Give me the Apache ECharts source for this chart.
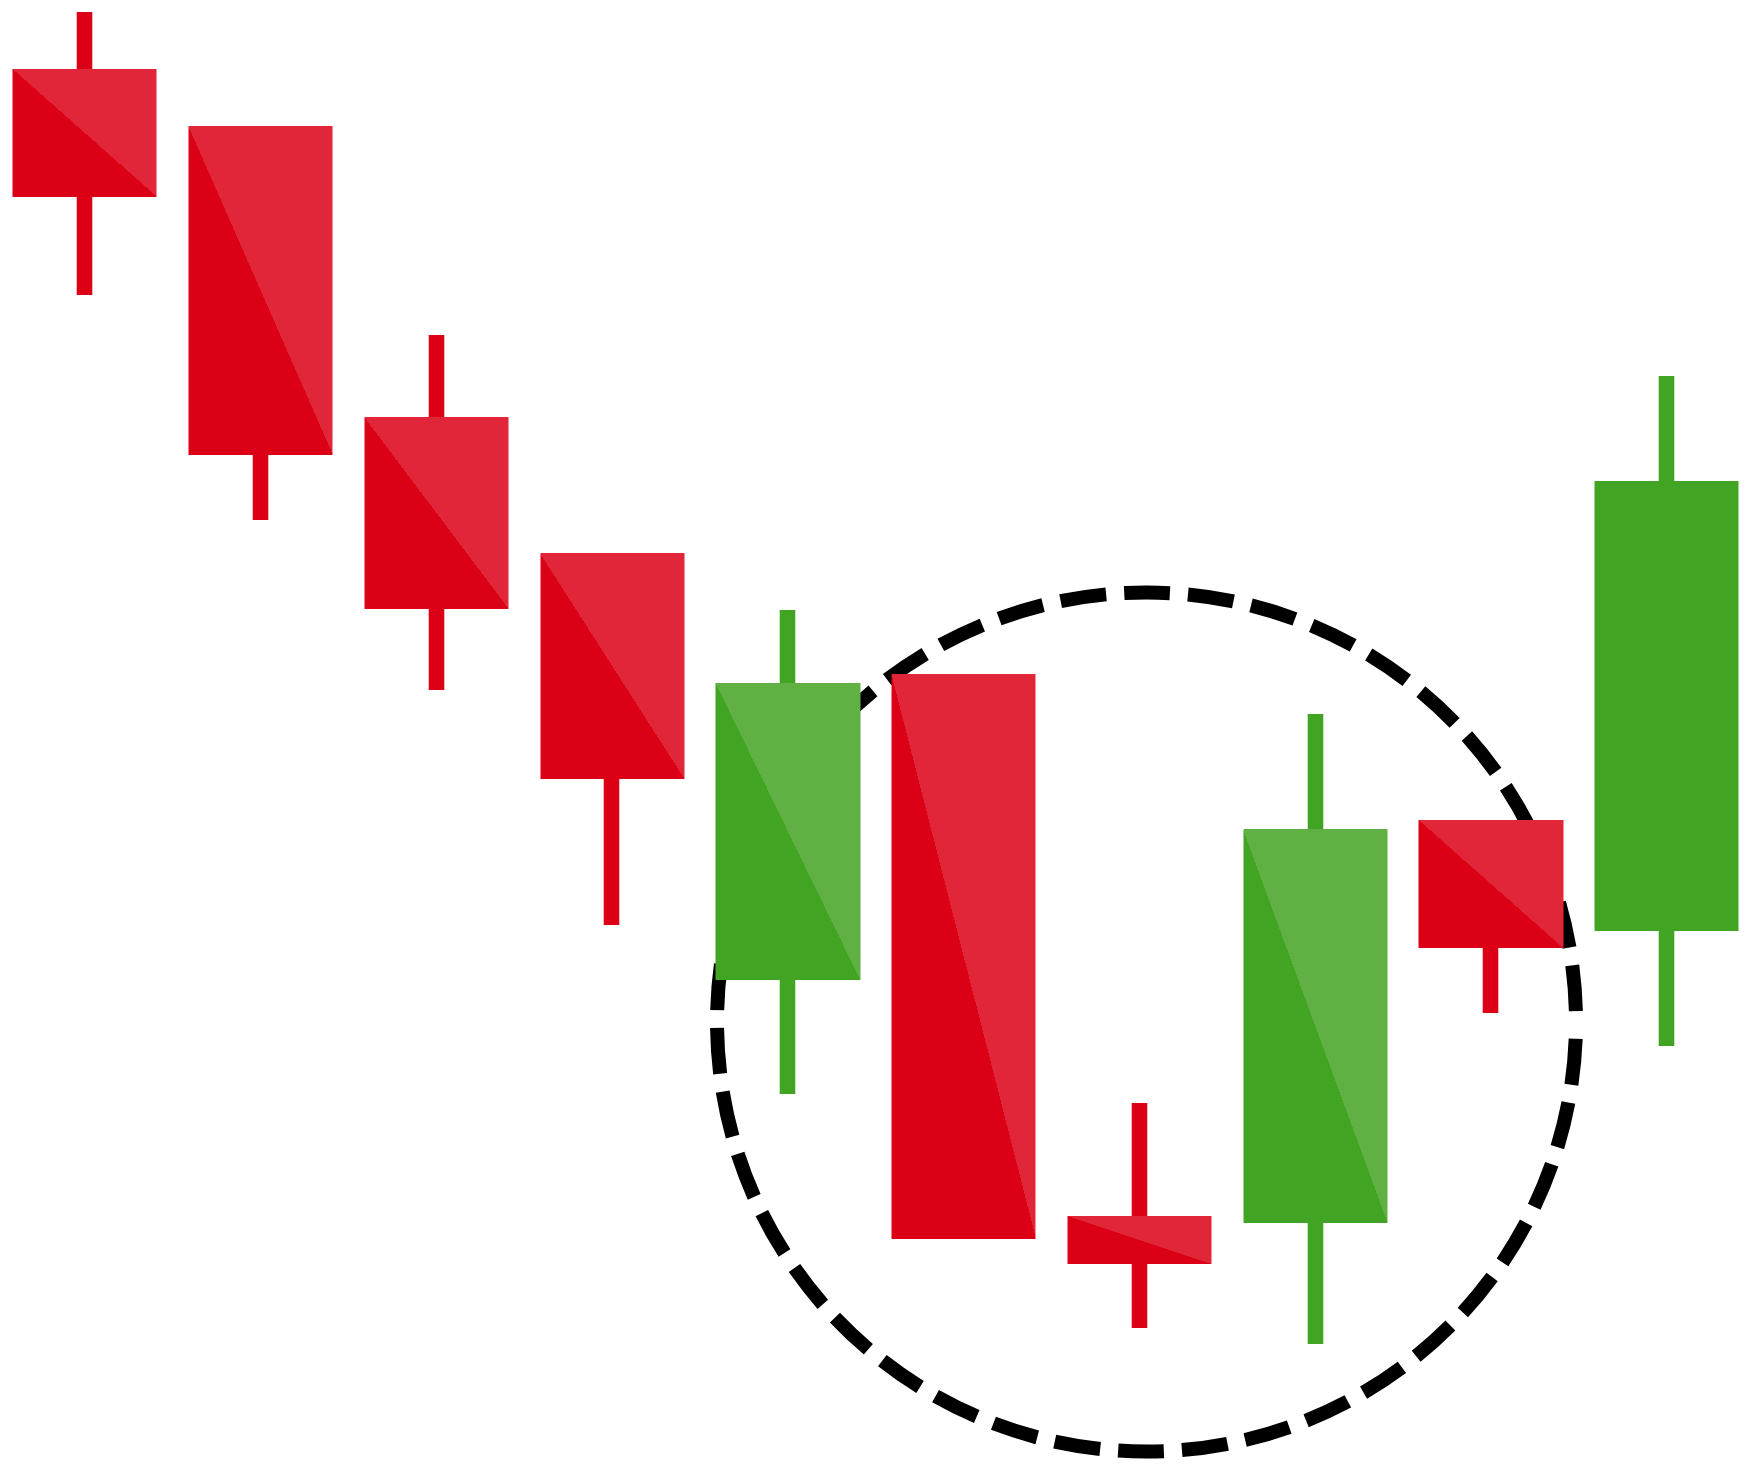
<!DOCTYPE html>
<html>
<head>
<meta charset="utf-8">
<script src="https://cdn.jsdelivr.net/npm/echarts@6/dist/echarts.min.js"></script>
<style>
html,body{margin:0;padding:0;background:#ffffff;}
#chart{width:1745px;height:1465px;}
</style>
</head>
<body>
<div id="chart"></div>
<script>
// ---- data (price units) ----
const candleIndex = [0, 1, 2, 3, 4, 5, 6, 7, 8, 9];
const openValues  = [139.6, 133.9, 104.8, 91.2, 48.5, 79.1, 24.9, 24.2, 64.5, 53.4];
const closeValues = [126.8, 101.0,  85.6, 68.6, 78.2, 22.6, 20.1, 63.6, 51.7, 98.4];
const lowValues   = [117.0,  94.5,  77.5, 54.0, 37.1, 22.6, 13.7, 12.1, 45.2, 41.9];
const highValues  = [145.3, 133.9, 113.0, 91.2, 85.5, 79.1, 36.2, 75.1, 64.5, 108.9];
const twoTone     = [true, true, true, true, true, true, true, true, true, false];
// dashed circle highlighting the reversal pattern
const circleCenter = { index: 6.04, price: 44.3 };
const circleRadiusPrice = 42.95;

// ---- styles ----
const RED_DARK = '#DC0017', RED_LIGHT = '#E2263A';
const GREEN_DARK = '#41A422', GREEN_LIGHT = '#60B043';
const BODY_WIDTH = 144.7;
const WICK_WIDTH = 15.6;

const chart = echarts.init(document.getElementById('chart'), null, { renderer: 'canvas' });

function isUp(i) { return closeValues[i] > openValues[i]; }

const wickData = candleIndex.map((x, i) => {
  const mid = (openValues[i] + closeValues[i]) / 2;
  const col = isUp(i) ? GREEN_DARK : RED_DARK;
  return {
    value: [x, mid, mid, lowValues[i], highValues[i]],
    itemStyle: { color: col, color0: col, borderColor: col, borderColor0: col, borderColorDoji: col, borderWidth: WICK_WIDTH }
  };
});

function bodyItem(i, fill) {
  return {
    value: [candleIndex[i], openValues[i], closeValues[i],
            Math.min(openValues[i], closeValues[i]), Math.max(openValues[i], closeValues[i])],
    itemStyle: { color: fill, color0: fill, borderWidth: 0, borderColor: fill, borderColor0: fill, borderColorDoji: fill }
  };
}

const option = {
  animation: false,
  backgroundColor: '#ffffff',
  grid: { left: 0, top: 0, right: 0, bottom: 0 },
  xAxis: { type: 'value', min: -0.483, max: 9.445, show: false, splitLine: { show: false } },
  yAxis: { type: 'value', min: 0, max: 146.5, show: false, splitLine: { show: false } },
  series: [
    { type: 'candlestick', name: 'wicks', barWidth: 1, z: 3, silent: true,
      encode: { x: 0, y: [1, 2, 3, 4] },
      itemStyle: { borderWidth: WICK_WIDTH }, data: wickData },
    { type: 'candlestick', name: 'bodies', barWidth: BODY_WIDTH, z: 4, silent: true,
      encode: { x: 0, y: [1, 2, 3, 4] },
      itemStyle: { borderWidth: 0 },
      data: candleIndex.map((x, i) => bodyItem(i, isUp(i) ? GREEN_DARK : RED_DARK)) }
  ]
};
chart.setOption(option);

// two-tone bodies: diagonal split from top-left to bottom-right corner
const bodyData = candleIndex.map((x, i) => {
  const up = isUp(i);
  const dark = up ? GREEN_DARK : RED_DARK;
  const light = up ? GREEN_LIGHT : RED_LIGHT;
  if (!twoTone[i]) return bodyItem(i, dark);
  const pTop = chart.convertToPixel({ gridIndex: 0 }, [x, Math.max(openValues[i], closeValues[i])]);
  const pBot = chart.convertToPixel({ gridIndex: 0 }, [x, Math.min(openValues[i], closeValues[i])]);
  const w = BODY_WIDTH, h = pBot[1] - pTop[1];
  const mx = pTop[0], my = (pTop[1] + pBot[1]) / 2;
  const len = Math.sqrt(w * w + h * h);
  const nx = h / len, ny = -w / len; // toward upper-right
  const L = 20;
  const grad = new echarts.graphic.LinearGradient(
    mx + nx * L, my + ny * L, mx - nx * L, my - ny * L,
    [ { offset: 0, color: light }, { offset: 0.5, color: light },
      { offset: 0.5, color: dark }, { offset: 1, color: dark } ],
    true
  );
  return bodyItem(i, grad);
});

const pc = chart.convertToPixel({ gridIndex: 0 }, [circleCenter.index, circleCenter.price]);
const pr = chart.convertToPixel({ gridIndex: 0 }, [circleCenter.index, circleCenter.price + circleRadiusPrice]);
const r = Math.abs(pc[1] - pr[1]);

chart.setOption({
  series: [{}, { data: bodyData }],
  graphic: [{
    type: 'circle', z: 1, silent: true,
    shape: { cx: pc[0], cy: pc[1], r: r },
    style: { fill: 'none', stroke: '#000000', lineWidth: 14, lineDash: [46, 18], lineDashOffset: -17 }
  }]
});
</script>
</body>
</html>
